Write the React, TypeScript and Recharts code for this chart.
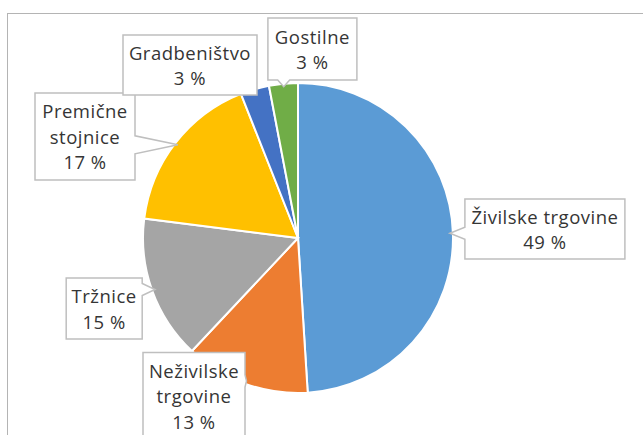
import React from "react";
import { PieChart, Pie, Cell } from "recharts";

// ---- data ----
const categories = [
  "Živilske trgovine",
  "Neživilske trgovine",
  "Tržnice",
  "Premične stojnice",
  "Gradbeništvo",
  "Gostilne",
];
const shares = [49, 13, 15, 17, 3, 3];
const labelNameLines = [
  ["Živilske trgovine"],
  ["Neživilske", "trgovine"],
  ["Tržnice"],
  ["Premične", "stojnice"],
  ["Gradbeništvo"],
  ["Gostilne"],
];

// ---- styles / layout ----
const colors = ["#5B9BD5", "#ED7D31", "#A5A5A5", "#FFC000", "#4472C4", "#70AD47"];
// label box centre offset from the slice's outer mid point, box size, pointer half-width
const labelBoxes = [
  { dx: 92, dy: -4, w: 160, h: 60, half: 6 },
  { dx: -51.5, dy: 11.7, w: 102, h: 86, half: 6 },
  { dx: -48, dy: 18, w: 76, h: 61, half: 6 },
  { dx: -90.5, dy: -6.5, w: 100, h: 87, half: 9 },
  { dx: -64.8, dy: -24.2, w: 134, h: 60, half: 6 },
  { dx: 29, dy: -34.7, w: 89, h: 62, half: 6 },
];
const FONT = "'Open Sans', 'DejaVu Sans', sans-serif";
const LINE_GAP = 25.5;

const data = categories.map((name, i) => ({ name, value: shares[i] }));

const RAD = Math.PI / 180;

function calloutPath(l: number, t: number, w: number, h: number, tx: number, ty: number, half: number) {
  const r = l + w;
  const b = t + h;
  const clamp = (v: number, lo: number, hi: number) => Math.max(lo, Math.min(hi, v));
  let side = "";
  if (tx > r + 1) side = "right";
  else if (tx < l - 1) side = "left";
  else if (ty < t - 1) side = "top";
  else if (ty > b + 1) side = "bottom";
  const pts: [number, number][] = [[l, t]];
  if (side === "top") {
    const c = clamp(tx, l + half, r - half);
    pts.push([c - half, t], [tx, ty], [c + half, t]);
  }
  pts.push([r, t]);
  if (side === "right") {
    const c = clamp(ty, t + half, b - half);
    pts.push([r, c - half], [tx, ty], [r, c + half]);
  }
  pts.push([r, b]);
  if (side === "bottom") {
    const c = clamp(tx, l + half, r - half);
    pts.push([c + half, b], [tx, ty], [c - half, b]);
  }
  pts.push([l, b]);
  if (side === "left") {
    const c = clamp(ty, t + half, b - half);
    pts.push([l, c + half], [tx, ty], [l, c - half]);
  }
  return "M" + pts.map((p) => p[0].toFixed(1) + "," + p[1].toFixed(1)).join("L") + "Z";
}

const renderLabel = (props: any) => {
  const { cx, cy, midAngle, outerRadius, index, value } = props;
  const box = labelBoxes[index];
  const ax = cx + outerRadius * Math.cos(-midAngle * RAD);
  const ay = cy + outerRadius * Math.sin(-midAngle * RAD);
  const tx = cx + (outerRadius - 3) * Math.cos(-midAngle * RAD);
  const ty = cy + (outerRadius - 3) * Math.sin(-midAngle * RAD);
  const bcx = ax + box.dx;
  const bcy = ay + box.dy;
  const l = bcx - box.w / 2;
  const t = bcy - box.h / 2;
  const lines = [...labelNameLines[index], `${value} %`];
  const n = lines.length;
  return (
    <g key={`lbl-${index}`}>
      <path
        d={calloutPath(l, t, box.w, box.h, tx, ty, box.half)}
        fill="#ffffff"
        stroke="#bfbfbf"
        strokeWidth={1.5}
      />
      {lines.map((txt, k) => (
        <text
          key={k}
          x={bcx}
          y={bcy + (k - (n - 1) / 2) * LINE_GAP}
          textAnchor="middle"
          dominantBaseline="central"
          fontFamily={FONT}
          fontSize={18.5}
          letterSpacing={0.5}
          fill="#353535"
        >
          {txt}
        </text>
      ))}
    </g>
  );
};

export default function App() {
  return (
    <div
      style={{
        position: "absolute",
        left: 0,
        top: 0,
        width: 643,
        height: 435,
        overflow: "hidden",
        background: "#ffffff",
      }}
    >
      <div
        style={{
          position: "absolute",
          left: 7,
          top: 13,
          width: 700,
          height: 500,
          borderTop: "1.5px solid #b4b4b4",
          borderLeft: "1.5px solid #b4b4b4",
        }}
      />
      <div style={{ position: "absolute", left: 0, top: 0 }}>
        <PieChart width={643} height={435} margin={{ top: 0, right: 0, bottom: 0, left: 0 }}>
          <Pie
            data={data}
            dataKey="value"
            nameKey="name"
            cx={298}
            cy={238}
            outerRadius={155}
            startAngle={90}
            endAngle={-270}
            fill="none"
            stroke="none"
            label={renderLabel}
            labelLine={false}
            isAnimationActive={false}
          />
          <Pie
            data={data}
            dataKey="value"
            nameKey="name"
            cx={298}
            cy={238}
            outerRadius={155}
            startAngle={90}
            endAngle={-270}
            stroke="#ffffff"
            strokeWidth={2}
            labelLine={false}
            isAnimationActive={false}
          >
            {data.map((d, i) => (
              <Cell key={d.name} fill={colors[i]} />
            ))}
          </Pie>
        </PieChart>
      </div>
    </div>
  );
}
